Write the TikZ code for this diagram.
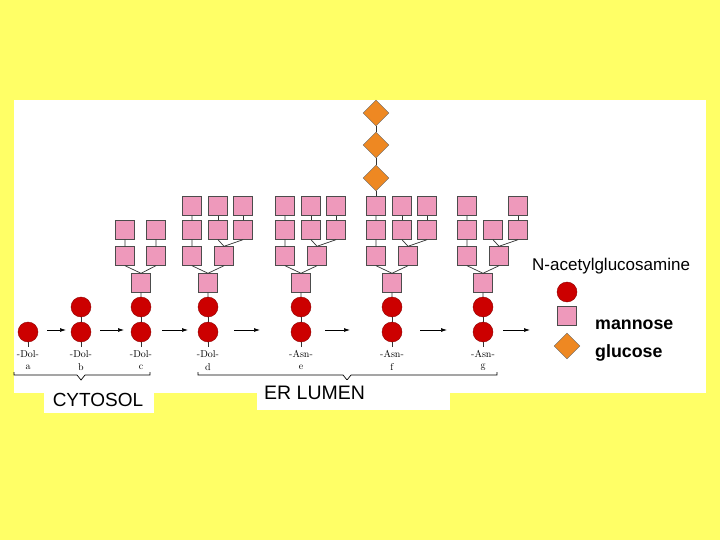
\documentclass[tikz,border=0pt]{standalone}
\usepackage{fontspec}
\setmainfont{Liberation Sans}
\usetikzlibrary{shapes.geometric,arrows.meta}
\definecolor{bgy}{HTML}{FFFF66}
\definecolor{gred}{HTML}{CC0000}
\definecolor{mpink}{HTML}{EE99BB}
\definecolor{gor}{HTML}{EE8822}
\tikzset{
 x=1pt,y=-1pt,
 glc/.style={circle,fill=gred,draw=gred!70!black,minimum size=20pt,inner sep=0pt},
 man/.style={rectangle,fill=mpink,draw=black!70,minimum size=19pt,inner sep=0pt},
 glu/.style={diamond,fill=gor,draw=black!60,minimum size=26pt,inner sep=0pt},
 lk/.style={draw=black!80,line width=0.7pt},
 arr/.style={-{Latex[length=6pt,width=4pt]},line width=0.7pt},
 sm/.style={font=\fontfamily{lmr}\selectfont\fontsize{10}{12}\selectfont,inner sep=0pt},
}
\begin{document}
\begin{tikzpicture}
\fill[bgy] (0,0) rectangle (720,540);
\useasboundingbox (0,0) rectangle (720,540);
\fill[white] (14,100) rectangle (706,393);
\foreach \n/\x/\k in {a/28/1,b/81/2,c/141/2,d/208/2,e/301/2,f/392/2,g/483/2}{
  \node[glc] (\n1) at (\x,332) {};
  \ifnum\k=2 \node[glc] (\n2) at (\x,307) {}; \draw[lk] (\n1) -- (\n2); \fi
  \draw[lk] (\n1.south) -- ++(0,5);
}
\foreach \n/\x/\t/\l in {a/28/Dol/a,b/81/Dol/b,c/141/Dol/c,d/208/Dol/d,e/301/Asn/e,f/392/Asn/f,g/483/Asn/g}{
  \node[sm] (t\n) at (\x,354) {-\t-};
  \node[sm] (l\n) at (\x,367) {\l};
}
\node[man] (c0) at (141,283) {};
\node[man] (c11) at (125,256) {}; \node[man] (c12) at (156,256) {};
\node[man] (c21) at (125,230) {}; \node[man] (c22) at (156,230) {};
\draw[lk] (c2)--(c0) (c0.north)--(c11.south) (c0.north)--(c12.south) (c11)--(c21) (c12)--(c22);
\foreach \n/\x in {d/208,e/301,f/392,g/483}{
  \pgfmathsetmacro\xa{\x-16}\pgfmathsetmacro\xb{\x+16}
  \pgfmathsetmacro\xm{\x+10}\pgfmathsetmacro\xr{\x+35}
  \node[man] (\n0) at (\x,283) {};
  \node[man] (\n11) at (\xa,256) {}; \node[man] (\n12) at (\xb,256) {};
  \node[man] (\n21) at (\xa,230) {}; \node[man] (\n22) at (\xm,230) {}; \node[man] (\n23) at (\xr,230) {};
  \node[man] (\n31) at (\xa,206) {};
  \draw[lk] (\n2)--(\n0) (\n0.north)--(\n11.south) (\n0.north)--(\n12.south) (\n11)--(\n21)
    (\n22.south)--(\n12.north) (\n23.south)--(\n12.north) (\n21)--(\n31);
}
\foreach \n/\x in {d/208,e/301,f/392}{
  \pgfmathsetmacro\xm{\x+10}\pgfmathsetmacro\xr{\x+35}
  \node[man] (\n32) at (\xm,206) {}; \node[man] (\n33) at (\xr,206) {};
  \draw[lk] (\n22)--(\n32) (\n23)--(\n33);
}
\node[man] (g33) at (518,206) {}; \draw[lk] (g23)--(g33);
\node[glu] (q1) at (376,178) {};
\node[glu] (q2) at (376,145) {};
\node[glu] (q3) at (376,113) {};
\draw[lk] (f31)--(q1) (q1)--(q2) (q2)--(q3);
\foreach \s/\e in {47/66,100/124,162/188,234/260,325/350,420/447,503/530}
  \draw[arr] (\s,330) coordinate (as\s) -- (\e,330) coordinate (ae\s);
\draw[lk,black] (14,372)--(14,375)--(77,375)--(81,380)--(85,375)--(150,375)--(150,372);
\draw[lk,black] (198,372)--(198,375)--(343,375)--(347,380)--(351,375)--(497,375)--(497,372);
\fill[white] (44,385) rectangle (154,413);
\node[font=\fontsize{19}{21}\selectfont,inner sep=0pt] (cyt) at (98,400) {CYTOSOL};
\fill[white] (257,380) rectangle (450,410);
\node[font=\fontsize{19.5}{21}\selectfont,anchor=west,inner sep=0pt] (er) at (264,393) {ER LUMEN};
\fill[white] (528,253) rectangle (695,280);
\node[anchor=west,inner sep=0pt,font=\fontsize{17}{19}\selectfont] (nag) at (532,266) {N-acetylglucosamine};
\node[glc] (lg) at (567,292) {};
\node[man] (lm) at (567,316) {};
\node[glu] (ld) at (567,346) {};
\fill[white] (590,311) rectangle (690,339);
\fill[white] (590,340) rectangle (680,367);
\node[anchor=west,inner sep=0pt,font=\bfseries\fontsize{17.8}{19}\selectfont] (mt) at (595,325) {mannose};
\node[anchor=west,inner sep=0pt,font=\bfseries\fontsize{17.8}{19}\selectfont] (gt) at (595,353) {glucose};
\end{tikzpicture}
\end{document}
